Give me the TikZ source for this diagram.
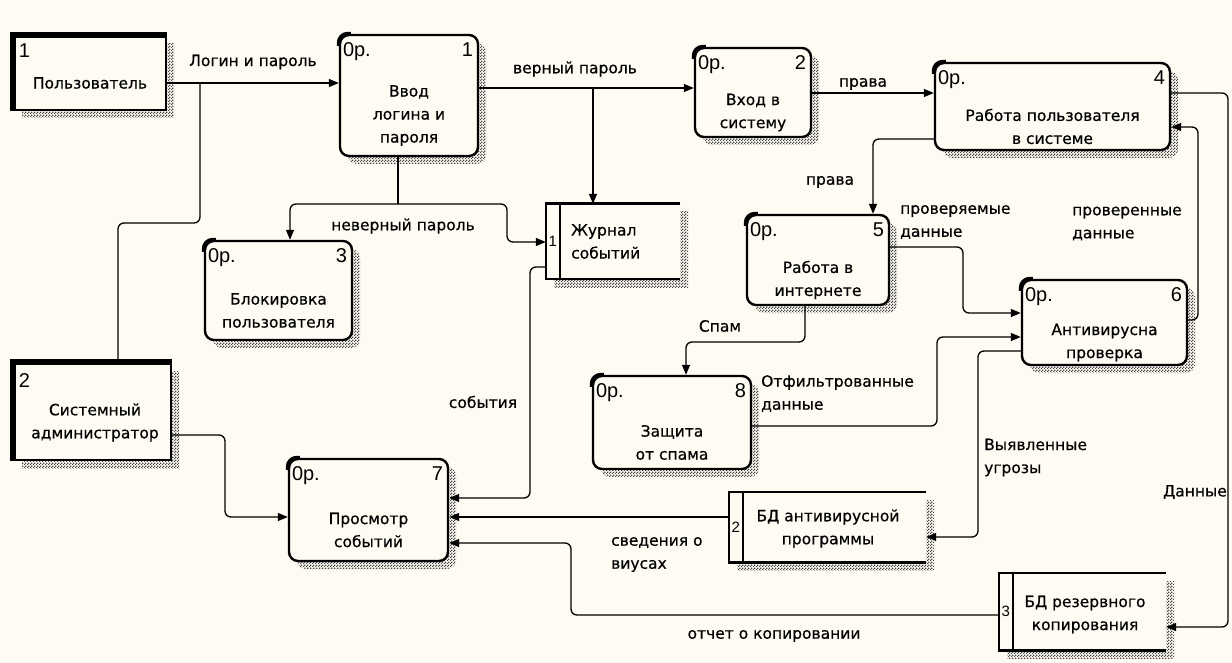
\documentclass[tikz,border=0pt]{standalone}
\usepackage{fontspec}
\setmainfont{DejaVu Sans}[FakeBold=0.5]
\newfontfamily\numfont{Liberation Sans}
\usetikzlibrary{arrows.meta,positioning,calc,shadows,patterns}
\definecolor{bgCol}{RGB}{253,251,242}
\definecolor{hatchCol}{RGB}{70,70,70}
\newcommand{\lbl}{\fontsize{15.5}{23}\selectfont}
\newcommand{\numsz}{\numfont\fontsize{20}{20}\selectfont}
% fine checker used for the shadows
\pgfdeclarepatternformonly{halftone}{\pgfpointorigin}{\pgfqpoint{3pt}{3pt}}{\pgfqpoint{3pt}{3pt}}{%
  \pgfpathrectangle{\pgfpointorigin}{\pgfqpoint{1.5pt}{1.5pt}}%
  \pgfpathrectangle{\pgfqpoint{1.5pt}{1.5pt}}{\pgfqpoint{1.5pt}{1.5pt}}%
  \pgfusepath{fill}}
\tikzset{
  hatch/.style={drop shadow={shadow xshift=8pt,shadow yshift=-8pt,opacity=1,
                pattern=halftone,pattern color=hatchCol}},
  proc/.style={draw,line width=2.4pt,rounded corners=9pt,fill=bgCol,hatch},
  extent/.style={draw,line width=2.4pt,fill=bgCol,hatch},
  store/.style={fill=bgCol,hatch},
  heavy/.style={line width=6pt},
  stline/.style={line width=2.6pt},
  flow/.style={-{Triangle[length=10pt,width=8pt]},line width=1.3pt,rounded corners=6pt},
  feed/.style={line width=1.3pt,rounded corners=6pt},
  lab/.style={font=\lbl,align=left,inner sep=0pt},
  ptext/.style={font=\lbl,align=center,inner sep=0pt},
  opnum/.style={font=\numsz,inner sep=0pt},
  stnum/.style={font=\numfont\fontsize{15}{15}\selectfont,inner sep=0pt},
}
% process box: name, centre, size, number, text
\newcommand{\procbox}[5]{%
  \node[proc,#3] (#1) at #2 {};
  \draw[line width=4pt,rounded corners=9pt] ([yshift=-12pt]#1.north west)
    -- (#1.north west) -- ([xshift=12pt]#1.north west);
  \node[opnum,anchor=north west] (#1-op) at ([shift={(4pt,-9pt)}]#1.north west) {0p.};
  \node[opnum,anchor=north east] (#1-no) at ([shift={(-6pt,-9pt)}]#1.north east) {#4};
  \node[ptext] (#1-tx) at ([yshift=-20pt]#1.center) {#5};
}
% data store: name, centre, size, number
\newcommand{\storebox}[4]{%
  \node[store,#3] (#1) at #2 {};
  \draw[stline] (#1.north east) -- (#1.north west) -- (#1.south west) -- (#1.south east);
  \draw[stline] ([xshift=14pt]#1.north west) -- ([xshift=14pt]#1.south west);
  \node[stnum] (#1-no) at ([xshift=7pt]#1.west) {#4};
}

\begin{document}
\begin{tikzpicture}[x=1pt,y=-1pt]
  \fill[bgCol] (0,0) rectangle (1232,663);
  \useasboundingbox (0,0) rectangle (1232,663);

  % external entities
  \node[extent,minimum width=152pt,minimum height=74pt] (usr) at (90,73) {};
  \draw[heavy] (usr.south west) |- (usr.north east);
  \node[opnum,anchor=north west] (usr-no) at ([shift={(6pt,-9pt)}]usr.north west) {1};
  \node[ptext] (usr-tx) at (90,83) {Пользователь};

  \node[extent,minimum width=157pt,minimum height=97pt] (adm) at (92.5,411.5) {};
  \draw[heavy] (adm.south west) |- (adm.north east);
  \node[opnum,anchor=north west] (adm-no) at ([shift={(6pt,-12pt)}]adm.north west) {2};
  \node[ptext] (adm-tx) at (95,422.5) {Системный\\администратор};

  % processes
  \procbox{p1}{(409,95.5)}{minimum width=138pt,minimum height=121pt}{1}{Ввод\\логина и\\пароля}
  \procbox{p2}{(753,92.5)}{minimum width=116pt,minimum height=89pt}{2}{Вход в\\систему}
  \procbox{p3}{(278.5,290.5)}{minimum width=147pt,minimum height=99pt}{3}{Блокировка\\пользователя}
  \procbox{p4}{(1052.5,106.5)}{minimum width=235pt,minimum height=87pt}{4}{Работа пользователя\\в системе}
  \procbox{p5}{(818,260)}{minimum width=142pt,minimum height=90pt}{5}{Работа в\\интернете}
  \procbox{p6}{(1104.5,322.5)}{minimum width=165pt,minimum height=85pt}{6}{Антивирусна\\проверка}
  \procbox{p7}{(368.5,510)}{minimum width=159pt,minimum height=102pt}{7}{Просмотр\\событий}
  \procbox{p8}{(672,422.5)}{minimum width=158pt,minimum height=93pt}{8}{Защита\\от спама}

  % data stores
  \storebox{s1}{(613,241.5)}{minimum width=134pt,minimum height=75pt}{1}
  \node[lab,anchor=west] (s1-tx) at (571,241.5) {Журнал\\событий};
  \storebox{s2}{(827.5,527)}{minimum width=197pt,minimum height=70pt}{2}
  \node[ptext] (s2-tx) at (828,528.5) {БД антивирусной\\программы};
  \storebox{s3}{(1082.5,611.5)}{minimum width=167pt,minimum height=77pt}{3}
  \node[ptext] (s3-tx) at (1085,614.5) {БД резервного\\копирования};

  % flows
  \draw[flow] (usr.east |- 0,83) -- (p1.west |- 0,83);
  \coordinate (jl) at (200,83);
  \draw[feed] (adm.north -| 118,0) |- (200,223) -- (jl);
  \draw[flow] (p1.east |- 0,88) -- (p2.west |- 0,88);
  \coordinate (jv) at (593,88);
  \draw[flow] (jv) -- (s1.north -| jv);
  \draw[flow] (p2.east |- 0,93) -- (p4.west |- 0,93);
  \draw[flow] (p4.west |- 0,139) -| ([xshift=55pt]p5.north);
  \draw[flow] (p5.east |- 0,247) -| (963,313) -- (p6.west |- 0,313);
  \draw[flow] (p6.east |- 0,320) -| (1198,127) -- (p4.east |- 0,127);
  \draw[flow] (p4.east |- 0,93) -| (1228,627) -- (s3.east |- 0,627);
  \draw[flow] (p5.south -| 805,0) |- (686,342) -- (p8.north -| 686,0);
  \draw[flow] (p8.east |- 0,426) -| (937,337) -- (p6.west |- 0,337);
  \draw[flow] (p6.west |- 0,351) -| (978,537) -- (s2.east |- 0,537);
  \draw[feed] (p1.south -| 398,0) -- (398,204) coordinate (jn);
  \draw[flow] (jn) -| (p3.north -| 290,0);
  \draw[flow] (jn) -| (507,242) -- (s1.west |- 0,242);
  \draw[flow] (s1.west |- 0,267) -| (530,498) -- (p7.east |- 0,498);
  \draw[flow] (adm.east |- 0,435) -| (225,517) -- (p7.west |- 0,517);
  \draw[flow] (s2.west |- 0,517) -- (p7.east |- 0,517);
  \draw[flow] (s3.west |- 0,615) -| (571,543) -- (p7.east |- 0,543);

  % flow labels
  \node[lab] (l-login) at (253,62) {Логин и пароль};
  \node[lab] (l-ok) at (575,69) {верный пароль};
  \node[lab] (l-right1) at (863,84) {права};
  \node[lab] (l-right2) at (830,182) {права};
  \node[lab,anchor=west] (l-check) at (900,222) {проверяемые\\данные};
  \node[lab,anchor=west] (l-checked) at (1072,223.5) {проверенные\\данные};
  \node[lab] (l-bad) at (403,226) {неверный пароль};
  \node[lab] (l-spam) at (720,326) {Спам};
  \node[lab,anchor=west] (l-filt) at (761,393.5) {Отфильтрованные\\данные};
  \node[lab,anchor=west] (l-threat) at (984,457.5) {Выявленные\\угрозы};
  \node[lab] (l-data) at (1195,492) {Данные};
  \node[lab] (l-events) at (483,402) {события};
  \node[lab,anchor=west] (l-virus) at (611,554.5) {сведения о\\виусах};
  \node[lab] (l-backup) at (774,636) {отчет о копировании};
\end{tikzpicture}
\end{document}
